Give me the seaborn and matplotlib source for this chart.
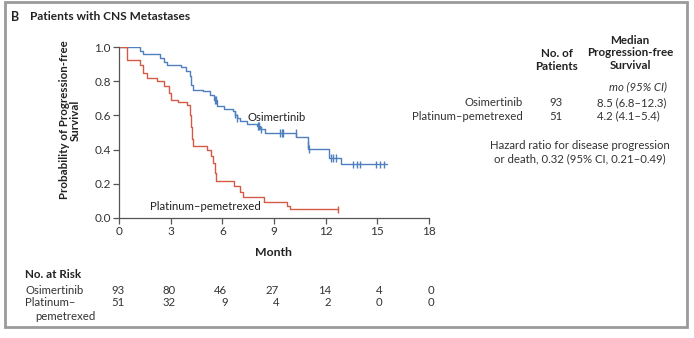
import matplotlib
matplotlib.use("Agg")
import matplotlib.pyplot as plt
from matplotlib.transforms import blended_transform_factory
from matplotlib.patches import Rectangle
import numpy as np
import pandas as pd
import seaborn as sns

# Kaplan-Meier step points (month, probability after each drop)
osi_month = [0, 1.2, 1.4, 2.4, 2.6, 2.8, 3.6, 3.9, 4.1, 4.2, 4.3, 4.9, 5.3, 5.5, 5.7,
             6.1, 6.6, 6.75, 6.85, 7.05, 7.45, 8.0, 8.2, 8.5, 10.3, 10.95, 11.0,
             12.2, 12.9, 15.55]
osi_prob = [1.0, 0.978, 0.957, 0.935, 0.914, 0.892, 0.882, 0.86, 0.83, 0.78, 0.75, 0.74,
            0.72, 0.69, 0.655, 0.635, 0.625, 0.605, 0.586, 0.566, 0.547, 0.537, 0.518,
            0.498, 0.473, 0.43, 0.405, 0.352, 0.313, 0.313]
osi_censor = [5.55, 5.65, 6.75, 6.85, 8.05, 8.15, 8.25, 9.35, 9.45, 9.55, 10.25, 10.95,
              11.05, 12.3, 12.45, 12.6, 13.6, 13.8, 14.0, 14.95, 15.15, 15.4]

pem_month = [0, 0.48, 1.2, 1.4, 1.6, 2.2, 2.6, 2.9, 3.0, 3.45, 3.95, 4.1, 4.18, 4.22,
             4.32, 5.1, 5.35, 5.45, 5.55, 5.65, 6.65, 7.05, 7.2, 8.4, 9.75, 9.95, 12.7]
pem_prob = [1.0, 0.925, 0.897, 0.848, 0.82, 0.80, 0.77, 0.73, 0.69, 0.68, 0.66, 0.60,
            0.53, 0.46, 0.42, 0.40, 0.36, 0.32, 0.265, 0.215, 0.19, 0.15, 0.12, 0.095,
            0.07, 0.05, 0.05]
pem_censor = [12.7]

arms = ["Osimertinib", "Platinum\u2013pemetrexed"]
colors = ["#4f7fbe", "#d45a45"]

risk_months = [0, 3, 6, 9, 12, 15, 18]
risk_osi = [93, 80, 46, 27, 14, 4, 0]
risk_pem = [51, 32, 9, 4, 2, 0, 0]

n_patients = [93, 51]
median_pfs = ["8.5 (6.8\u201312.3)", "4.2 (4.1\u20135.4)"]
hazard_text = "Hazard ratio for disease progression\nor death, 0.32 (95% CI, 0.21\u20130.49)"

sns.set_theme(style="white")
plt.rcParams["font.family"] = ["Lato", "DejaVu Sans"]

W, H = 694, 338
fig = plt.figure(figsize=(W / 100, H / 100), dpi=100)
fig.patch.set_facecolor("white")

TXT = "#333333"
HEAD = "#222222"
FS = 8.2
FSB = 8.4


def px(x, y):
    return x / W, 1 - y / H


ax = fig.add_axes([119 / W, 1 - 218 / H, 310 / W, 171 / H])

curves = pd.concat([
    pd.DataFrame({"month": osi_month, "prob": osi_prob, "arm": arms[0]}),
    pd.DataFrame({"month": pem_month, "prob": pem_prob, "arm": arms[1]}),
])
sns.lineplot(data=curves, x="month", y="prob", hue="arm", palette=colors,
             estimator=None, sort=False, drawstyle="steps-post", linewidth=1.0,
             legend=False, ax=ax)


def value_at(months, probs, t):
    idx = np.searchsorted(months, t, side="right") - 1
    return probs[max(idx, 0)]


censors = pd.concat([
    pd.DataFrame({"month": osi_censor,
                  "prob": [value_at(osi_month, osi_prob, t) for t in osi_censor],
                  "arm": arms[0]}),
    pd.DataFrame({"month": pem_censor,
                  "prob": [value_at(pem_month, pem_prob, t) for t in pem_censor],
                  "arm": arms[1]}),
])
sns.scatterplot(data=censors, x="month", y="prob", hue="arm", palette=colors,
                marker="|", s=30, linewidth=1.0, legend=False, ax=ax, zorder=3)

ax.set_xlim(0, 18)
ax.set_ylim(0, 1.0)
ax.set_xticks(risk_months)
ax.set_yticks(np.arange(0, 1.01, 0.2))
ax.set_yticklabels([f"{v:.1f}" for v in np.arange(0, 1.01, 0.2)])
for side in ("top", "right"):
    ax.spines[side].set_visible(False)
for side in ("left", "bottom"):
    ax.spines[side].set_color("#555555")
    ax.spines[side].set_linewidth(0.9)
ax.tick_params(axis="both", direction="out", length=4, width=0.9, color="#555555",
               labelsize=8.5, labelcolor=TXT, pad=2, bottom=True, left=True)
ax.set_xlabel("")
ax.set_ylabel("")
ax.set_facecolor("white")

# axis titles
fig.text(*px(273, 252), "Month", ha="center", va="center", fontsize=8.8,
         fontweight="bold", color=HEAD)
fig.text(*px(70, 120), "Probability of Progression-free\nSurvival", ha="center",
         va="center", rotation=90, fontsize=8.3, fontweight="bold", color=HEAD,
         linespacing=1.05)

# curve labels
ax.text(7.45, 0.59, arms[0], fontsize=FS, color=HEAD, ha="left", va="center")
ax.text(1.8, 0.065, arms[1], fontsize=FS, color=HEAD, ha="left", va="center")

# panel title
fig.text(*px(11, 17), "B", fontsize=9, fontweight="bold", color=HEAD, va="center")
fig.text(*px(30, 17), "Patients with CNS Metastases", fontsize=8.6, fontweight="bold",
         color=HEAD, va="center")

# summary table on the right
fig.text(*px(557, 60), "No. of\nPatients", ha="center", va="center", fontsize=FSB,
         fontweight="bold", color=HEAD, linespacing=1.15)
fig.text(*px(630, 53), "Median\nProgression-free\nSurvival", ha="center", va="center",
         fontsize=FSB, fontweight="bold", color=HEAD, linespacing=1.15)
fig.text(*px(638, 87), "mo (95% CI)", ha="center", va="center", fontsize=FS,
         style="italic", color=TXT)
for i, yy in enumerate([103, 116]):
    fig.text(*px(523, yy), arms[i], ha="right", va="center", fontsize=FS, color=TXT)
    fig.text(*px(556, yy), str(n_patients[i]), ha="center", va="center", fontsize=FS,
             color=TXT)
    fig.text(*px(597, yy), median_pfs[i], ha="left", va="center", fontsize=FS,
             color=TXT)
fig.text(*px(580, 152), hazard_text, ha="center", va="center", fontsize=FS,
         color=TXT, linespacing=1.25)

# number at risk
fig.text(*px(25, 275), "No. at Risk", fontsize=FSB, fontweight="bold", color=HEAD,
         va="center")
fig.text(*px(25, 291), arms[0], fontsize=FS, color=TXT, va="center")
fig.text(*px(25, 303), "Platinum\u2013", fontsize=FS, color=TXT, va="center")
fig.text(*px(35, 316), "pemetrexed", fontsize=FS, color=TXT, va="center")
tr = blended_transform_factory(ax.transData, fig.transFigure)
for m, a, b in zip(risk_months, risk_osi, risk_pem):
    fig.text(m + 0.3, 1 - 291 / H, str(a), transform=tr, ha="right", va="center",
             fontsize=FS, color=TXT)
    fig.text(m + 0.3, 1 - 303 / H, str(b), transform=tr, ha="right", va="center",
             fontsize=FS, color=TXT)

# panel frame
fig.add_artist(Rectangle(px(5, 327), (687 - 5) / W, (327 - 2) / H,
                         transform=fig.transFigure, fill=False, edgecolor="#9a9a9a",
                         linewidth=2.0))

fig.savefig("out.png", dpi=100, facecolor="white")
